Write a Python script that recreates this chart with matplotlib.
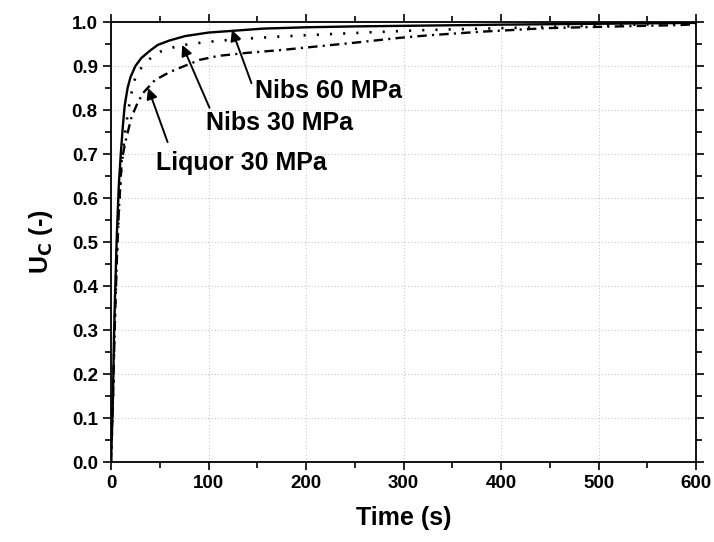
import numpy as np
import matplotlib
matplotlib.use("Agg")
import matplotlib.pyplot as plt
from matplotlib.ticker import MultipleLocator

plt.rcParams['font.family'] = ['Liberation Sans', 'DejaVu Sans']
plt.rcParams['font.weight'] = 'bold'

# Nibs 60 MPa (solid)
t_nibs60 = [0, 1, 2, 3, 4, 6, 8, 10, 12, 14, 17, 20, 25, 31, 40, 48, 60, 76,
            100, 125, 156, 200, 250, 327, 400, 500, 600]
u_nibs60 = [0, 0.07, 0.15, 0.28, 0.37, 0.52, 0.63, 0.70, 0.76, 0.81, 0.85,
            0.875, 0.90, 0.918, 0.935, 0.948, 0.958, 0.968, 0.976, 0.980,
            0.985, 0.988, 0.990, 0.992, 0.994, 0.996, 0.998]

# Nibs 30 MPa (dotted)
t_nibs30 = [0, 2, 4, 6, 8, 10, 12, 15, 20, 25, 30, 35, 47, 60, 70, 81, 100,
            130, 173, 220, 270, 327, 400, 500, 600]
u_nibs30 = [0, 0.14, 0.33, 0.47, 0.57, 0.65, 0.70, 0.76, 0.83, 0.875, 0.893,
            0.907, 0.93, 0.94, 0.946, 0.95, 0.955, 0.961, 0.967, 0.972,
            0.977, 0.982, 0.986, 0.992, 0.997]

# Liquor 30 MPa (dash-dot)
t_liquor = [0, 2, 4, 6, 8, 11, 15, 21, 27, 33, 45, 60, 73, 81, 91, 110, 140,
            173, 200, 250, 296, 327, 380, 446, 500, 583, 600]
u_liquor = [0, 0.15, 0.32, 0.46, 0.57, 0.686, 0.73, 0.784, 0.815, 0.839,
            0.868, 0.886, 0.898, 0.905, 0.914, 0.923, 0.93, 0.936, 0.942,
            0.953, 0.964, 0.97, 0.978, 0.986, 0.989, 0.993, 0.995]

# annotations: label, text centre, arrow tail, arrow tip
notes = [
    ("Nibs 60 MPa", (223, 0.843), (144, 0.861), (124, 0.982)),
    ("Nibs 30 MPa", (173, 0.770), (101, 0.805), (73, 0.948)),
    ("Liquor 30 MPa", (134, 0.680), (58, 0.727), (38, 0.85)),
]

fig = plt.figure(figsize=(7.14, 5.42), dpi=100)
ax = fig.add_axes([0.1555, 0.1476, 0.8195, 0.8118])

ax.plot(t_nibs60, u_nibs60, color='black', lw=1.7, ls='-')
ax.plot(t_nibs30, u_nibs30, color='black', lw=1.9, ls=(0, (0.8, 4.2)))
ax.plot(t_liquor, u_liquor, color='black', lw=1.7, ls=(0, (4, 2.2, 0.9, 2.2)))

for label, xy_text, tail, tip in notes:
    ax.text(xy_text[0], xy_text[1], label, fontsize=18, fontweight='bold',
            ha='center', va='center')
    ax.annotate("", xy=tip, xytext=tail,
                arrowprops=dict(arrowstyle='-|>', color='black', lw=1.4,
                                mutation_scale=16, shrinkA=0, shrinkB=0))

ax.set_xlim(0, 600)
ax.set_ylim(0, 1.0)
ax.xaxis.set_major_locator(MultipleLocator(100))
ax.xaxis.set_minor_locator(MultipleLocator(50))
ax.yaxis.set_major_locator(MultipleLocator(0.1))
ax.yaxis.set_minor_locator(MultipleLocator(0.05))
ax.yaxis.set_major_formatter(matplotlib.ticker.FormatStrFormatter('%.1f'))

ax.grid(True, which='major', color='#c8c8c8', ls=(0, (1, 2)), lw=0.8)
ax.tick_params(which='both', direction='out', top=True, right=True,
               labelsize=13.5, width=1.2)
ax.tick_params(which='major', length=6)
ax.tick_params(which='minor', length=4)
for spine in ax.spines.values():
    spine.set_linewidth(1.3)

ax.set_xlabel("Time (s)", fontsize=18, fontweight='bold', labelpad=10)
ax.set_ylabel(r"U$_\mathbf{C}$ (-)", fontsize=18, fontweight='bold', labelpad=12)

fig.savefig("out.png", dpi=100)
